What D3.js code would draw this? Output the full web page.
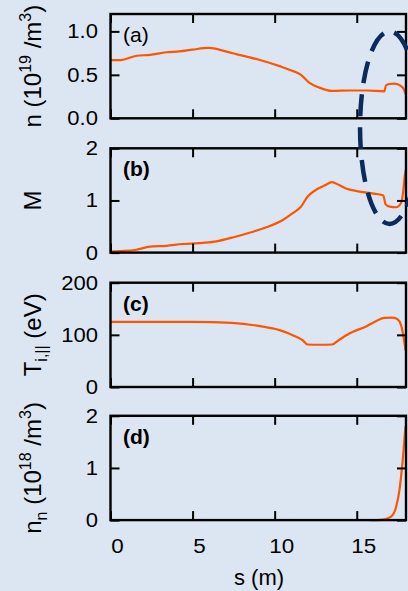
<!DOCTYPE html>
<html>
<head>
<meta charset="utf-8">
<script src="https://cdn.jsdelivr.net/npm/d3@7"></script>
<style>
  html, body { margin: 0; padding: 0; background: #dce6f2; }
  svg { display: block; }
  text { font-family: "Liberation Sans", Arial, Helvetica, sans-serif; fill: #000; }
</style>
</head>
<body>
<script>
// ---------------- data ----------------
const sTicks = [0, 5, 10, 15];

// (a) plasma density n (10^19 /m^3)
const sA = [0, 0.6, 1.6, 2.4, 3.4, 4.2, 5.0, 5.95, 7.5, 9.1, 10.3, 11.1, 11.6, 12.1, 12.7, 13.5, 14.6, 15.6, 16.68, 16.78, 17.0, 17.3, 17.7, 17.85, 17.97];
const nA = [0.67, 0.67, 0.72, 0.73, 0.76, 0.77, 0.79, 0.81, 0.745, 0.67, 0.60, 0.545, 0.50, 0.41, 0.355, 0.315, 0.32, 0.32, 0.31, 0.38, 0.395, 0.40, 0.37, 0.34, 0.28];
const ticksA = [0.0, 0.5, 1.0];
const tickLabelsA = ["0.0", "0.5", "1.0"];

// (b) Mach number M
const sB = [0, 0.58, 1.5, 2.4, 3.4, 4.4, 5.4, 6.35, 7.5, 8.5, 9.5, 10.5, 11.1, 11.6, 12.0, 12.5, 13.0, 13.5, 13.9, 14.35, 15.0, 15.6, 16.6, 16.7, 16.75, 17.0, 17.4, 17.7, 17.84, 17.92, 18.0];
const mB = [0.02, 0.03, 0.05, 0.115, 0.13, 0.165, 0.18, 0.21, 0.295, 0.385, 0.485, 0.625, 0.755, 0.88, 1.07, 1.2, 1.28, 1.35, 1.30, 1.23, 1.18, 1.15, 1.10, 1.0, 0.93, 0.88, 0.87, 0.95, 1.2, 1.46, 1.6];
const ticksB = [0, 1, 2];
const tickLabelsB = ["0", "1", "2"];

// (c) parallel ion temperature T_i,|| (eV)
const sC = [0, 2.5, 5, 7.4, 9.1, 10.3, 11.1, 11.7, 12.0, 12.7, 13.5, 13.9, 14.55, 15.6, 16.1, 16.65, 17.2, 17.5, 17.7, 17.85, 17.97];
const tC = [125, 125, 125, 123, 116.7, 109, 99.4, 89.8, 81.5, 81, 81.5, 89.8, 102.6, 116.7, 125, 132.7, 133, 129.6, 118.7, 96, 70];
const ticksC = [0, 100, 200];
const tickLabelsC = ["0", "100", "200"];

// (d) neutral density n_n (10^18 /m^3)
const sD = [15.8, 16.5, 16.73, 17.09, 17.4, 17.6, 17.8, 17.97];
const nnD = [0, 0.005, 0.02, 0.065, 0.255, 0.575, 1.15, 1.8];
const ticksD = [0, 1, 2];
const tickLabelsD = ["0", "1", "2"];

const panelLetters = ["(a)", "(b)", "(c)", "(d)"];

// ---------------- layout ----------------
const W = 408, H = 591;
const left = 110.5, right = 406;
const tops = [14, 148.3, 282.7, 415.8];
const ph = 104.3;
const lineColor = "#ff5400";

const svg = d3.select("body").append("svg").attr("width", W).attr("height", H);
svg.append("rect").attr("width", W).attr("height", H).attr("fill", "#dce6f2");

const x = d3.scaleLinear().domain([0, 18]).range([left, right]);

const panels = [
  { s: sA, v: nA, dom: [0, 1.2], ticks: ticksA, labels: tickLabelsA, letterBold: false },
  { s: sB, v: mB, dom: [0, 2], ticks: ticksB, labels: tickLabelsB, letterBold: true },
  { s: sC, v: tC, dom: [0, 200], ticks: ticksC, labels: tickLabelsC, letterBold: true },
  { s: sD, v: nnD, dom: [0, 2], ticks: ticksD, labels: tickLabelsD, letterBold: true }
];

const tickLen = 9;
const scales = [];

panels.forEach((p, i) => {
  const top = tops[i], bottom = top + ph;
  const y = d3.scaleLinear().domain(p.dom).range([bottom, top]);
  scales.push(y);
  const g = svg.append("g");

  // curve
  const line = d3.line().x((d, k) => x(p.s[k])).y(d => y(d)).curve(d3.curveMonotoneX);
  g.append("path").datum(p.v).attr("d", line)
    .attr("fill", "none").attr("stroke", lineColor).attr("stroke-width", 2.2)
    .attr("stroke-linejoin", "round");

  // inward ticks on all four sides
  const styleAxis = sel => {
    sel.select(".domain").remove();
    sel.selectAll(".tick line").attr("stroke", "#000").attr("stroke-width", 2);
    sel.selectAll(".tick text").remove();
  };
  g.append("g").attr("transform", `translate(${left},0)`)
    .call(d3.axisLeft(y).tickValues(p.ticks).tickSize(-tickLen).tickFormat("")).call(styleAxis);
  g.append("g").attr("transform", `translate(${right},0)`)
    .call(d3.axisRight(y).tickValues(p.ticks).tickSize(-tickLen).tickFormat("")).call(styleAxis);
  g.append("g").attr("transform", `translate(0,${top})`)
    .call(d3.axisTop(x).tickValues(sTicks).tickSize(-tickLen).tickFormat("")).call(styleAxis);
  g.append("g").attr("transform", `translate(0,${bottom})`)
    .call(d3.axisBottom(x).tickValues(sTicks).tickSize(-tickLen).tickFormat("")).call(styleAxis);

  // frame
  g.append("rect").attr("x", left).attr("y", top).attr("width", right - left).attr("height", ph)
    .attr("fill", "none").attr("stroke", "#000").attr("stroke-width", 2.4);

  // y tick labels
  g.selectAll("text.ytl").data(p.ticks).enter().append("text")
    .attr("class", "ytl")
    .attr("transform", d => `translate(${left - 12.5},${y(d)}) scale(1.13,1)`)
    .attr("text-anchor", "end").attr("dy", "0.36em")
    .attr("font-size", 19.5)
    .text((d, k) => p.labels[k]);

  // panel letter
  g.append("text")
    .attr("transform", `translate(${left + 12.5},${top + 28}) scale(1.08,1)`)
    .attr("font-size", 19.5).attr("font-weight", p.letterBold ? "bold" : "normal")
    .text(panelLetters[i]);
});

// x tick labels (bottom panel)
const bottomD = tops[3] + ph;
svg.selectAll("text.xtl").data(sTicks).enter().append("text")
  .attr("class", "xtl")
  .attr("transform", d => `translate(${x(d) + 7},${bottomD + 33}) scale(1.15,1)`)
  .attr("text-anchor", "middle").attr("font-size", 19.5)
  .text(d => String(d));

// x axis title
svg.append("text").attr("x", 259).attr("y", 585).attr("text-anchor", "middle")
  .attr("font-size", 22).text("s (m)");

// y axis titles
function yTitle(i, build) {
  const cy = tops[i] + ph / 2;
  const t = svg.append("text").attr("transform", `translate(41,${cy}) rotate(-90)`)
    .attr("text-anchor", "middle").attr("font-size", 24);
  build(t);
}
yTitle(0, t => {
  t.append("tspan").text("n (10");
  t.append("tspan").attr("font-size", 16).attr("dy", -10).text("19");
  t.append("tspan").attr("dy", 10).text(" /m");
  t.append("tspan").attr("font-size", 16).attr("dy", -10).text("3");
  t.append("tspan").attr("dy", 10).text(")");
});
yTitle(1, t => { t.text("M"); });
yTitle(2, t => {
  t.append("tspan").text("T");
  t.append("tspan").attr("font-size", 16).attr("dy", 6).text("i,||");
  t.append("tspan").attr("dy", -6).text(" (eV)");
});
yTitle(3, t => {
  t.append("tspan").text("n");
  t.append("tspan").attr("font-size", 16).attr("dy", 6).text("n");
  t.append("tspan").attr("dy", -6).text(" (10");
  t.append("tspan").attr("font-size", 16).attr("dy", -10).text("18");
  t.append("tspan").attr("dy", 10).text(" /m");
  t.append("tspan").attr("font-size", 16).attr("dy", -10).text("3");
  t.append("tspan").attr("dy", 10).text(")");
});

// dashed ellipse annotation around the target region
const ellS = [15.2, 18.8];            // s extent of the ellipse
const ellTop = scales[0](1.0);        // top, in panel (a) units
const ellBottom = scales[1](0.55);    // bottom, in panel (b) units
svg.append("ellipse")
  .attr("cx", (x(ellS[0]) + x(ellS[1])) / 2)
  .attr("cy", (ellTop + ellBottom) / 2)
  .attr("rx", (x(ellS[1]) - x(ellS[0])) / 2)
  .attr("ry", (ellBottom - ellTop) / 2)
  .attr("fill", "none").attr("stroke", "#0b2a5e").attr("stroke-width", 4.5)
  .attr("stroke-dasharray", "22,11").attr("stroke-dashoffset", 8);
</script>
</body>
</html>
